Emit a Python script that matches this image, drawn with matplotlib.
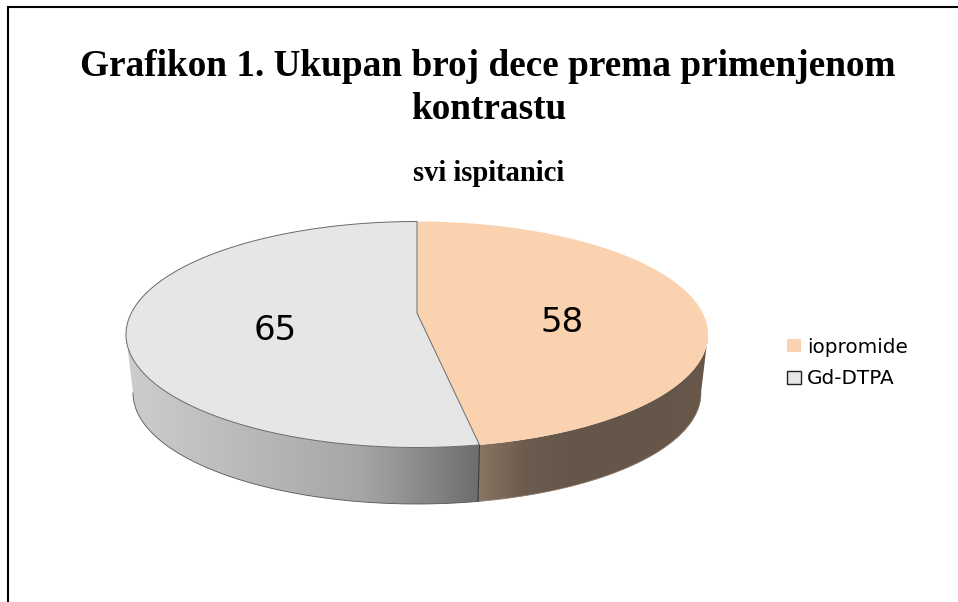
#!/usr/bin/env python3
"""Grafikon 1: 3D-looking pie of contrast agents, drawn on a pixel-sized axes."""

import matplotlib
matplotlib.use("Agg")
import matplotlib.pyplot as plt
import numpy as np
from matplotlib.colors import LinearSegmentedColormap
from matplotlib.patches import Patch, Polygon

categories = ["iopromide", "Gd-DTPA"]
values = [58, 65]
colors = ["#fbd2b0", "#e6e6e6"]
title_lines = ["Grafikon 1. Ukupan broj dece prema primenjenom", "kontrastu"]
subtitle = "svi ispitanici"

# top ellipse, bottom ellipse and how far the wedge tip sits off-centre
CX = 417
TOP = (334.5, 291, 113)
BOT = (393, 284, 111)
TILT = 0.19


def rim(theta):
    """Clockwise angle from 12 o'clock -> unit ellipse point, with perspective."""
    u, v = np.sin(theta), np.cos(theta)
    w = 1 + TILT * v
    return u * np.sqrt(1 - TILT ** 2) / w, (v + TILT) / w


def ell(level, x, y):
    cy, rx, ry = level
    return CX + rx * x, cy - ry * y


def wall(ax, t0, t1, cmap_colors, edge):
    t = np.linspace(t0, t1, 200)
    xa, ya = CX + TOP[1] * np.cos(t), TOP[0] + TOP[2] * np.sin(t)
    xb, yb = CX + BOT[1] * np.cos(t), BOT[0] + BOT[2] * np.sin(t)
    pts = np.vstack([np.c_[xa, ya], np.c_[xb, yb][::-1]])
    poly = Polygon(pts, closed=True, fc="none", ec="none")
    ax.add_patch(poly)
    x0, x1 = pts[:, 0].min(), pts[:, 0].max()
    cmap = LinearSegmentedColormap.from_list("w", cmap_colors)
    im = ax.imshow(np.linspace(0, 1, 256)[None, :], extent=(x0, x1, 510, 320),
                   cmap=cmap, aspect="auto", zorder=1)
    im.set_clip_path(poly)
    ax.plot(xb, yb, color=edge, lw=0.6, zorder=2)


fig = plt.figure(figsize=(9.58, 6.02), dpi=100)
ax = fig.add_axes([0, 0, 1, 1])

# wedge boundaries from the values
share = np.cumsum(values) / np.sum(values)
split = 2 * np.pi * share[0]
sx, sy = rim(split)
seam_top = ell(TOP, sx, sy)
seam_bot = ell(BOT, sx, sy)
t_seam = np.arctan2(-sy, sx)

wall(ax, 0, t_seam, ["#8a7563", "#6c5b4e", "#66564a", "#66564a", "#66564a", "#695849"], "#8a7a6c")
wall(ax, t_seam, np.pi, ["#cdcdcd", "#bababa", "#a6a6a6", "#6c6e6e"], "#555555")
ax.plot([seam_top[0], seam_bot[0]], [seam_top[1], seam_bot[1]], color="#3a3a3a", lw=0.8, zorder=3)

# top faces
tip = (CX, TOP[0] - TOP[2] * TILT)
th1 = np.linspace(0, split, 300)
th2 = np.linspace(split, 2 * np.pi, 300)
xy1 = np.c_[ell(TOP, *rim(th1))]
xy2 = np.c_[ell(TOP, *rim(th2))]
ax.add_patch(Polygon(np.vstack([[tip], xy1]), closed=True, fc=colors[0], ec="none", zorder=4))
ax.add_patch(Polygon(np.vstack([[tip], xy2]), closed=True, fc=colors[1], ec="#6a6a6a", lw=0.7, zorder=5))

ax.text(562, 322, str(values[0]), fontsize=24.5, ha="center", va="center", zorder=6)
ax.text(275, 330, str(values[1]), fontsize=24.5, ha="center", va="center", zorder=6)

# titles
serif = ["Liberation Serif", "DejaVu Serif"]
ax.text(488, 76, title_lines[0], family=serif, weight="bold", fontsize=26.8, ha="center", va="baseline")
ax.text(489, 119, title_lines[1], family=serif, weight="bold", fontsize=26.8, ha="center", va="baseline")
ax.text(489, 181, subtitle, family=serif, weight="bold", fontsize=20.6, ha="center", va="baseline")

# legend
handles = [Patch(fc=colors[0], ec="none"), Patch(fc=colors[1], ec="#222222", lw=1)]
ax.legend(handles, categories, loc="center left", bbox_to_anchor=(787, 363),
          bbox_transform=ax.transData, frameon=False, fontsize=14.4, borderaxespad=0,
          handlelength=0.7, handleheight=0.6, handletextpad=0.3, labelspacing=0.62, borderpad=0)

# outer frame, only left and top edges are in the crop
ax.plot([8, 8, 958], [602, 7, 7], color="black", lw=1.5, solid_joinstyle="miter")

ax.set_xlim(0, 958)
ax.set_ylim(602, 0)
ax.axis("off")
fig.savefig("out.png", dpi=100, facecolor="white")
plt.close(fig)
